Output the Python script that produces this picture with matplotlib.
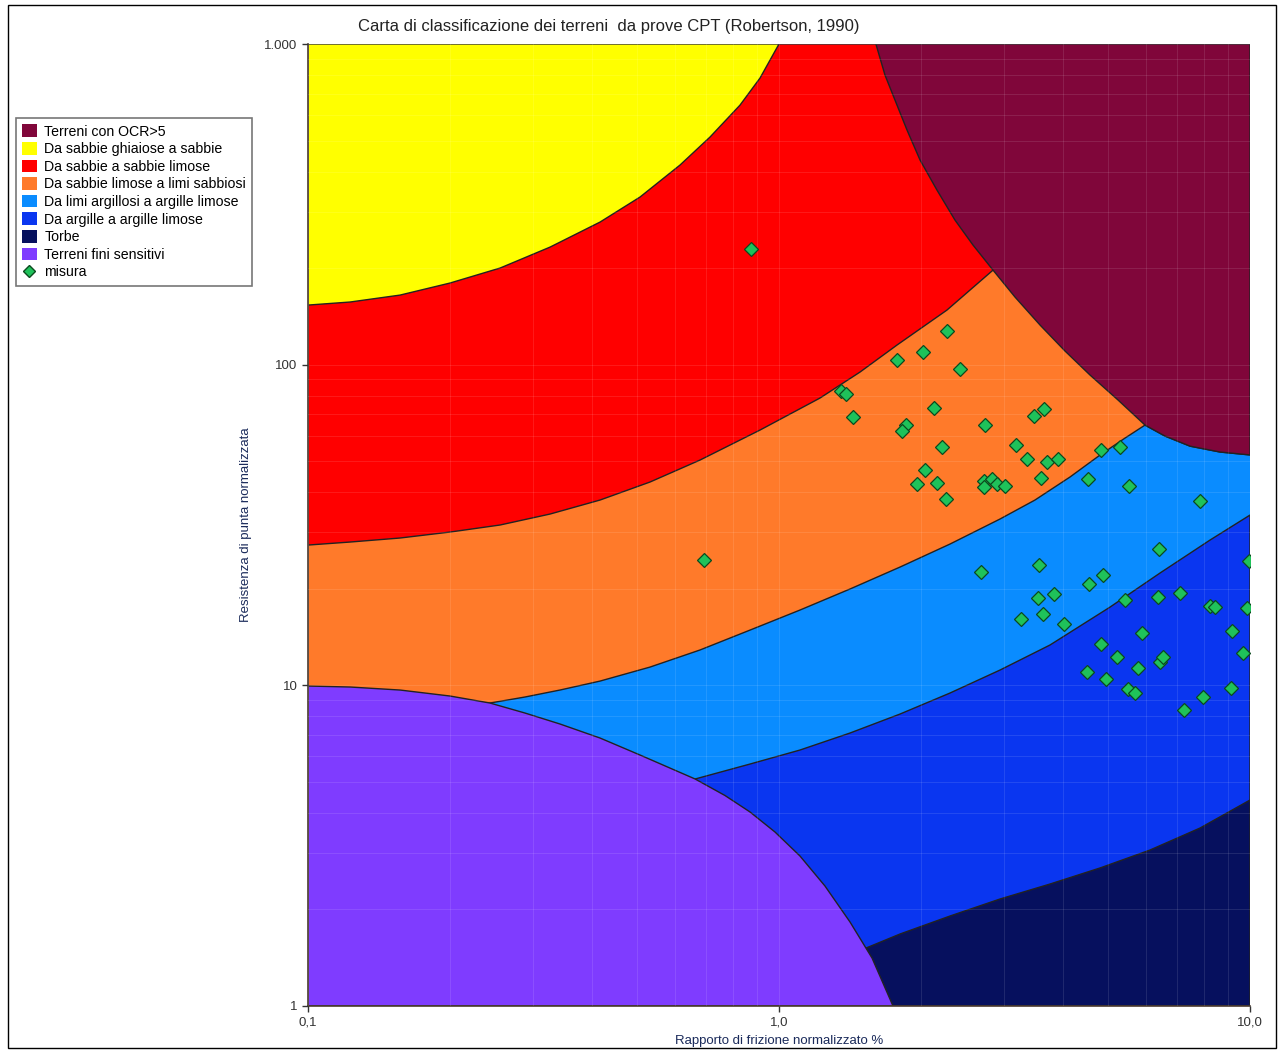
import numpy as np
import matplotlib
matplotlib.use("Agg")
import matplotlib.pyplot as plt
from matplotlib.patches import Patch, Rectangle
from matplotlib.lines import Line2D
from matplotlib.ticker import LogLocator, NullFormatter

plt.rcParams['font.family'] = ['Liberation Sans', 'DejaVu Sans']

# ---- zone boundaries (Fr %, Qt) ----
yellow_x = [0.1, 0.1228, 0.1568, 0.2002, 0.2557, 0.3265, 0.4169, 0.5069, 0.6164, 0.7137, 0.8264, 0.9114, 1.0]
yellow_y = [153.4, 156.8, 164.8, 179.7, 200.1, 232.6, 278.4, 333.2, 419.3, 512.6, 644.7, 783.0, 1000]

red_low_x = [0.1, 0.1228, 0.1568, 0.2002, 0.2557, 0.3265, 0.4169, 0.5322, 0.6797, 0.9114, 1.222, 1.486, 1.780, 2.273, 2.847]
red_low_y = [27.38, 27.98, 28.80, 30.06, 31.62, 34.21, 37.83, 43.05, 50.41, 62.53, 78.69, 94.83, 115.1, 148.0, 197.2]

ocr_x = [1.606, 1.679, 1.763, 1.870, 1.993, 2.165, 2.364, 2.582, 2.847, 3.170, 3.583, 4.048, 4.575, 5.245,
         5.985, 6.60, 7.46, 8.64, 10.0]
ocr_y = [1000, 799.8, 668.6, 538.9, 434.5, 350.2, 282.4, 236.0, 197.2, 162.5, 132.9, 110.3, 92.8, 77.6,
         64.8, 59.9, 55.7, 53.4, 52.3]

orange_low_x = [0.1, 0.2434, 0.2888, 0.3428, 0.4169, 0.5322, 0.6797, 0.868, 1.108, 1.415, 1.807, 2.307,
                2.946, 3.495, 4.147, 4.803, 5.428, 5.985]
orange_low_y = [8.807, 8.807, 9.195, 9.668, 10.31, 11.40, 12.89, 14.87, 17.17, 19.97, 23.38, 27.58,
                33.01, 37.83, 44.62, 52.25, 59.03, 64.8]

lblue_low_x = [0.6636, 0.868, 1.108, 1.415, 1.807, 2.307, 2.946, 3.762, 5.045, 6.441, 8.227, 10.0]
lblue_low_y = [5.104, 5.683, 6.284, 7.100, 8.137, 9.462, 11.16, 13.36, 17.54, 22.40, 28.39, 33.96]

blue_low_x = [1.530, 1.807, 2.307, 2.946, 3.762, 4.803, 6.13, 7.832, 10.0]
blue_low_y = [1.516, 1.677, 1.908, 2.156, 2.401, 2.694, 3.064, 3.589, 4.388]

purple_x = [0.1, 0.1228, 0.1568, 0.2002, 0.2434, 0.2888, 0.3428, 0.4169, 0.5069, 0.6636, 0.768, 0.868,
            0.9806, 1.108, 1.252, 1.415, 1.576, 1.746]
purple_y = [9.95, 9.88, 9.668, 9.261, 8.807, 8.197, 7.575, 6.850, 6.063, 5.104, 4.533, 4.027,
            3.488, 2.936, 2.367, 1.828, 1.411, 1.0]

# ---- measured points ----
fr = [0.872, 0.693, 2.273, 2.02, 1.780, 2.423, 1.354, 1.388, 1.436, 2.134,
      1.861, 1.824, 2.737, 2.219, 3.186, 3.362, 2.042, 1.963, 2.165, 2.262,
      2.724, 2.724, 2.833, 2.903, 3.018, 3.652, 3.478, 3.707, 3.912, 3.599,
      4.83, 5.30, 4.53, 5.54, 2.685, 3.565, 3.548, 3.836, 3.635, 3.265,
      4.03, 4.55, 4.87, 4.83, 6.41, 7.83, 9.97, 5.43, 6.38, 7.10,
      8.22, 8.43, 9.85, 5.90, 9.16, 5.22, 5.78, 6.44, 6.54, 9.66,
      4.51, 4.95, 5.51, 5.70, 7.95, 9.11, 7.24]
qt = [229, 24.6, 127.3, 109.5, 103.3, 96.9, 82.7, 81.0, 68.6, 73.2,
      64.8, 62.1, 64.8, 55.4, 56.2, 50.8, 46.9, 42.4, 42.7, 38.1,
      43.4, 41.5, 44.0, 42.4, 41.8, 72.7, 69.1, 49.7, 50.8, 44.3,
      54.2, 55.4, 44.0, 41.8, 22.6, 23.7, 18.7, 19.3, 16.7, 16.1,
      15.5, 20.7, 22.1, 13.5, 26.6, 37.6, 24.4, 18.5, 18.9, 19.4,
      17.7, 17.5, 17.4, 14.6, 14.8, 12.3, 11.3, 11.8, 12.3, 12.6,
      11.0, 10.5, 9.74, 9.46, 9.19, 9.81, 8.37]

zone_labels = ["Terreni con OCR>5", "Da sabbie ghiaiose a sabbie",
               "Da sabbie a sabbie limose", "Da sabbie limose a limi sabbiosi",
               "Da limi argillosi a argille limose", "Da argille a argille limose",
               "Torbe", "Terreni fini sensitivi"]
zone_colors = ["#80063a", "#ffff00", "#ff0000", "#ff7a2a",
               "#0a8cff", "#0a36f0", "#06105e", "#7f3cff"]
c_ocr, c_yel, c_red, c_ora, c_lbl, c_blu, c_nav, c_pur = zone_colors

fig = plt.figure(figsize=(12.82, 10.52), dpi=100)
ax = fig.add_axes([308/1282, 1 - 1006/1052, 942/1282, 962/1052])
ax.set_xscale('log')
ax.set_yscale('log')
ax.set_xlim(0.1, 10)
ax.set_ylim(1, 1000)
ax.set_facecolor(c_lbl)

edge = dict(edgecolor='#222222', linewidth=1.0, joinstyle='round')

# argille
ax.fill(lblue_low_x + [10, lblue_low_x[0]], lblue_low_y + [1, 1], facecolor=c_blu, **edge)
# torbe
ax.fill(blue_low_x + [10, blue_low_x[0]], blue_low_y + [1, 1], facecolor=c_nav, **edge)
# sabbie limose / limi sabbiosi
ax.fill(orange_low_x + ocr_x[15:] + [10, 0.1], orange_low_y + ocr_y[15:] + [1000, 1000],
        facecolor=c_ora, **edge)
# sabbie
ax.fill(red_low_x + [red_low_x[-1], 0.1], red_low_y + [1000, 1000], facecolor=c_red, **edge)
# OCR>5
ax.fill(ocr_x + [10], ocr_y + [1000], facecolor=c_ocr, **edge)
# sabbie ghiaiose
ax.fill(yellow_x + [0.1], yellow_y + [1000], facecolor=c_yel, **edge)
# fini sensitivi
ax.fill(purple_x + [0.1], purple_y + [1], facecolor=c_pur, **edge)

ax.xaxis.set_minor_locator(LogLocator(base=10, subs=np.arange(2, 10)))
ax.yaxis.set_minor_locator(LogLocator(base=10, subs=np.arange(2, 10)))
ax.xaxis.set_minor_formatter(NullFormatter())
ax.yaxis.set_minor_formatter(NullFormatter())
ax.grid(True, which='both', color='white', alpha=0.1, linewidth=0.8)
ax.set_axisbelow(False)

ax.plot(fr, qt, linestyle='none', marker='D', markersize=6.8,
        markerfacecolor='#1fc25a', markeredgecolor='#0b4a1e', markeredgewidth=0.9, zorder=5)

ax.set_xticks([0.1, 1, 10])
ax.set_xticklabels(["0,1", "1,0", "10,0"])
ax.set_yticks([1, 10, 100, 1000])
ax.set_yticklabels(["1", "10", "100", "1.000"])
ax.tick_params(which='major', labelsize=9.5, colors='#333333', length=4, width=1)
ax.tick_params(which='minor', length=0)
for s in ['top', 'right']:
    ax.spines[s].set_visible(False)
for s in ['left', 'bottom']:
    ax.spines[s].set_color('#4a3a30')
    ax.spines[s].set_linewidth(1.2)

ax.set_xlabel("Rapporto di frizione normalizzato %", fontsize=9.5, color='#1a2a5a', labelpad=5)
ax.set_ylabel("Resistenza di punta normalizzata", fontsize=9.5, color='#1a2a5a', labelpad=9)

fig.text(609/1282, 1 - 26/1052, "Carta di classificazione dei terreni  da prove CPT (Robertson, 1990)",
         ha='center', va='center', fontsize=12, color='#222222')

handles = [Patch(facecolor=c, edgecolor='none') for c in zone_colors]
handles.append(Line2D([], [], linestyle='none', marker='D', markersize=6,
                      markerfacecolor='#1fc25a', markeredgecolor='#0b4a1e'))
leg = fig.legend(handles, zone_labels + ["misura"], loc='upper left',
                 bbox_to_anchor=(16/1282, 1 - 118/1052), fontsize=10.2,
                 frameon=True, fancybox=False, edgecolor='#555555',
                 handlelength=1.0, handleheight=1.0, handletextpad=0.55,
                 labelspacing=0.24, borderpad=0.45, borderaxespad=0)
leg.get_frame().set_linewidth(1.2)

fig.patches.append(Rectangle((8/1282, 4/1052), 1268/1282, 1043/1052, transform=fig.transFigure,
                             fill=False, edgecolor='black', linewidth=1))

fig.savefig("out.png", dpi=100)
